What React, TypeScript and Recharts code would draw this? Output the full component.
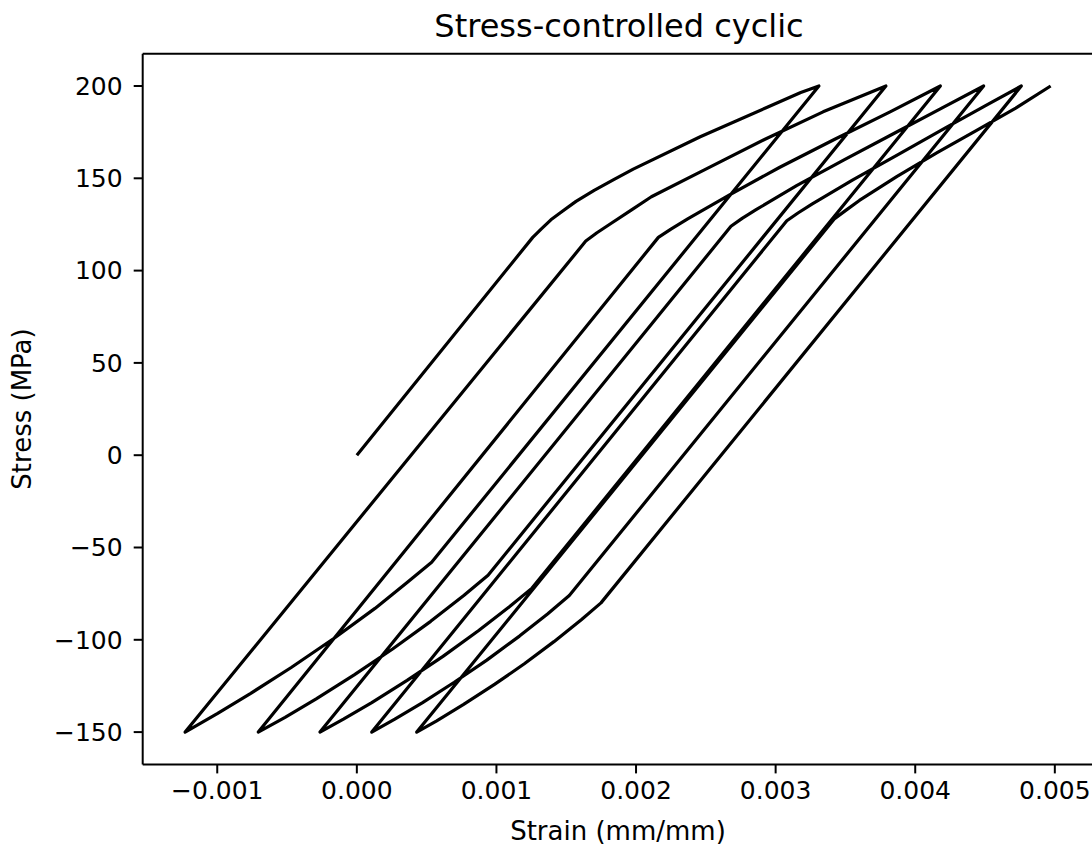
import React from 'react';
import { LineChart, Line, XAxis, YAxis, ReferenceLine } from 'recharts';

type Pt = [number, number];

const loading1: Pt[] = [
  [0, 0], [0.00126, 118], [0.00132, 122.5], [0.00139, 127.5], [0.00147, 132],
  [0.00157, 137.5], [0.0017, 143.5], [0.00184, 149.3], [0.00198, 155],
  [0.00246, 172.5], [0.00294, 188.5], [0.00318, 196.5], [0.00331, 200],
];
const unloading1: Pt[] = [
  [0.000536, -58], [0.00036, -69], [0.00013, -83], [-0.00016, -99],
  [-0.00047, -115], [-0.00076, -129], [-0.001, -140], [-0.00123, -150],
];
const loading2: Pt[] = [
  [0.00164, 116], [0.00172, 120.5], [0.00182, 125.5], [0.00196, 132.5],
  [0.00211, 140], [0.0025, 155], [0.00292, 171], [0.00334, 186], [0.00379, 200],
];
const unloading2: Pt[] = [
  [0.00094, -65], [0.000766, -76], [0.000529, -90], [0.000256, -105],
  [-0.000019, -119], [-0.000291, -132], [-0.000514, -142], [-0.000706, -150],
];
const loading3: Pt[] = [
  [0.00216, 118], [0.00225, 122.5], [0.00237, 128], [0.00267, 141],
  [0.00303, 156], [0.00342, 171], [0.00382, 186], [0.00418, 200],
];
const unloading3: Pt[] = [
  [0.001255, -72], [0.001095, -82], [0.000873, -95], [0.000617, -109],
  [0.00036, -122], [0.000107, -134], [-0.000096, -143], [-0.000264, -150],
];
const loading4: Pt[] = [
  [0.00268, 124], [0.00276, 128.3], [0.00286, 133], [0.00315, 146],
  [0.00349, 160], [0.00384, 174], [0.00419, 188], [0.00449, 200],
];
const unloading4: Pt[] = [
  [0.001522, -76], [0.001366, -86], [0.001165, -98], [0.000931, -111],
  [0.000698, -123], [0.000471, -134], [0.000272, -143], [0.000107, -150],
];
const loading5: Pt[] = [
  [0.00308, 127], [0.00316, 131.2], [0.00326, 136], [0.00355, 149],
  [0.00388, 163], [0.00421, 177], [0.00452, 190], [0.00476, 200],
];
const unloading5: Pt[] = [
  [0.001749, -80], [0.00161, -89], [0.001412, -101], [0.0012, -113],
  [0.000989, -124], [0.000765, -135], [0.000569, -144], [0.000429, -150],
];
const loading6: Pt[] = [
  [0.00342, 128], [0.0035, 132.5], [0.0036, 138], [0.00387, 151],
  [0.00416, 164], [0.00444, 176], [0.00472, 188], [0.00497, 200],
];

const strainTicks = [-0.001, 0, 0.001, 0.002, 0.003, 0.004, 0.005];
const stressTicks = [-150, -100, -50, 0, 50, 100, 150, 200];
const strainDomain: [number, number] = [-0.001534, 0.00531];
const stressDomain: [number, number] = [-167.5, 217.5];

const branches = [
  loading1, unloading1, loading2, unloading2, loading3, unloading3,
  loading4, unloading4, loading5, unloading5, loading6,
];
const points = branches.flat().map(([strain, stress]) => ({ strain, stress }));

const FONT = 'DejaVu Sans';
const minus = (s: string) => s.replace('-', '\u2212');

const fmtStrain = (v: number) => minus(v.toFixed(3));
const fmtStress = (v: number) => minus(String(v));

export default function App() {
  return (
    <div style={{ position: 'absolute', left: 0, top: 0, width: 1092, height: 851, overflow: 'hidden', background: '#fff' }}>
      <LineChart
        width={1100}
        height={851}
        data={points}
        margin={{ top: 53.7, right: 1.9, bottom: 26.6, left: 42.7 }}
      >
        <XAxis
          dataKey="strain"
          type="number"
          domain={strainDomain}
          allowDataOverflow
          ticks={strainTicks}
          tickFormatter={fmtStrain}
          height={60}
          tickSize={9}
          tickMargin={8}
          axisLine={{ stroke: '#000', strokeWidth: 2 }}
          tickLine={{ stroke: '#000', strokeWidth: 2 }}
          tick={{ fill: '#000', fontSize: 25, fontFamily: FONT }}
        />
        <YAxis
          dataKey="stress"
          type="number"
          domain={stressDomain}
          allowDataOverflow
          ticks={stressTicks}
          tickFormatter={fmtStress}
          width={100}
          tickSize={9}
          tickMargin={11}
          axisLine={{ stroke: '#000', strokeWidth: 2 }}
          tickLine={{ stroke: '#000', strokeWidth: 2 }}
          tick={{ fill: '#000', fontSize: 25, fontFamily: FONT }}
        />
        <ReferenceLine y={stressDomain[1]} stroke="#000" strokeWidth={2} />
        <ReferenceLine x={strainDomain[1]} stroke="#000" strokeWidth={2} />
        <Line
          dataKey="stress"
          type="linear"
          stroke="#000"
          strokeWidth={3.2}
          strokeLinejoin="round"
          dot={false}
          activeDot={false}
          isAnimationActive={false}
        />
      </LineChart>
      <svg width={1092} height={851} style={{ position: 'absolute', left: 0, top: 0, pointerEvents: 'none' }}>
        <text x={619} y={37} textAnchor="middle" fontFamily={FONT} fontSize={32} fill="#000">
          Stress-controlled cyclic
        </text>
        <text x={618} y={840} textAnchor="middle" fontFamily={FONT} fontSize={26} fill="#000">
          Strain (mm/mm)
        </text>
        <text
          x={0}
          y={0}
          transform="translate(31 409) rotate(-90)"
          textAnchor="middle"
          fontFamily={FONT}
          fontSize={26}
          fill="#000"
        >
          Stress (MPa)
        </text>
      </svg>
    </div>
  );
}
